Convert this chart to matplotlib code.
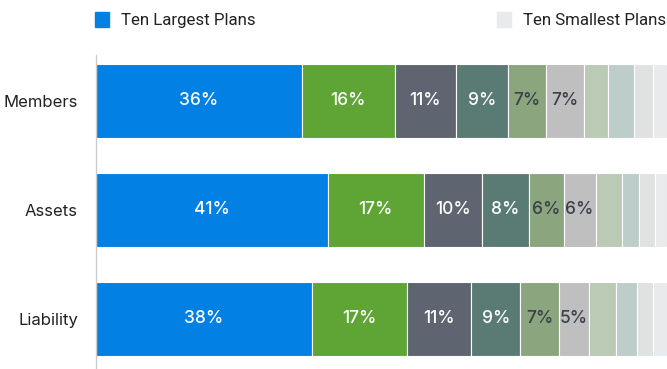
import matplotlib
matplotlib.use("Agg")
import matplotlib.pyplot as plt
import numpy as np

plt.rcParams['font.family'] = ['Inter', 'DejaVu Sans']

categories = ["Members", "Assets", "Liability"]

# share of each measure held by plans, largest plan group first (percent)
members = [36.0, 16.4, 10.6, 9.1, 6.7, 6.6, 4.2, 4.7, 3.3, 2.4]
assets = [40.6, 16.8, 10.2, 8.2, 6.1, 5.6, 4.6, 3.0, 2.8, 2.1]
liability = [37.8, 16.6, 11.3, 8.6, 6.8, 5.3, 4.6, 3.7, 2.8, 2.5]

legend_labels = ["Ten Largest Plans", "Ten Smallest Plans"]

colors = ["#0280E3", "#5EA535", "#5E6570", "#5A7B74", "#8BA67E",
          "#BFBFBF", "#BACAB4", "#BCCDCA", "#E0E1E1", "#E9EAEB"]
text_colors = ["white"] * 4 + ["#3B4049"] * 2
n_labelled = 6

rows = [members, assets, liability]

fig = plt.figure(figsize=(6.67, 3.69), dpi=100)
ax = fig.add_axes([96 / 667, 0.0, 1 - 96 / 667, 1 - 55 / 369])

ypos = np.arange(len(categories))
bar_h = 0.68
for r, vals in enumerate(rows):
    left = 0.0
    for i, v in enumerate(vals):
        ax.barh(ypos[r], v, left=left, height=bar_h, color=colors[i],
                edgecolor="white", linewidth=0.8)
        if i < n_labelled:
            ax.text(left + v / 2, ypos[r], "%.0f%%" % v, ha="center", va="center",
                    fontsize=12.5, fontweight="medium", color=text_colors[i])
        left += v

ax.set_xlim(0, 100)
ax.set_ylim(2.459, -0.422)
ax.set_yticks(ypos)
ax.set_yticklabels(categories, fontsize=12, color="#222222")
ax.tick_params(axis="y", length=0, pad=13)
ax.set_xticks([])
for s in ["top", "right", "bottom"]:
    ax.spines[s].set_visible(False)
ax.spines["left"].set_color("#CCCCCC")
ax.spines["left"].set_linewidth(1)

# legend: first group on the left, last group on the right
leg_y = 1 - 12 / 369
leg_kw = dict(frameon=False, prop={"family": "Roboto", "size": 12.2},
              handlelength=0.85, handleheight=1.0, handletextpad=0.7,
              borderpad=0, borderaxespad=0, labelcolor="#222222")
h1 = plt.Rectangle((0, 0), 1, 1, color=colors[0])
h2 = plt.Rectangle((0, 0), 1, 1, color=colors[-1])
fig.legend([h1], legend_labels[:1], loc="upper left",
           bbox_to_anchor=(95 / 667, leg_y), **leg_kw)
fig.legend([h2], legend_labels[1:], loc="upper right",
           bbox_to_anchor=(666 / 667, leg_y), **leg_kw)

fig.savefig("out.png", dpi=100)
